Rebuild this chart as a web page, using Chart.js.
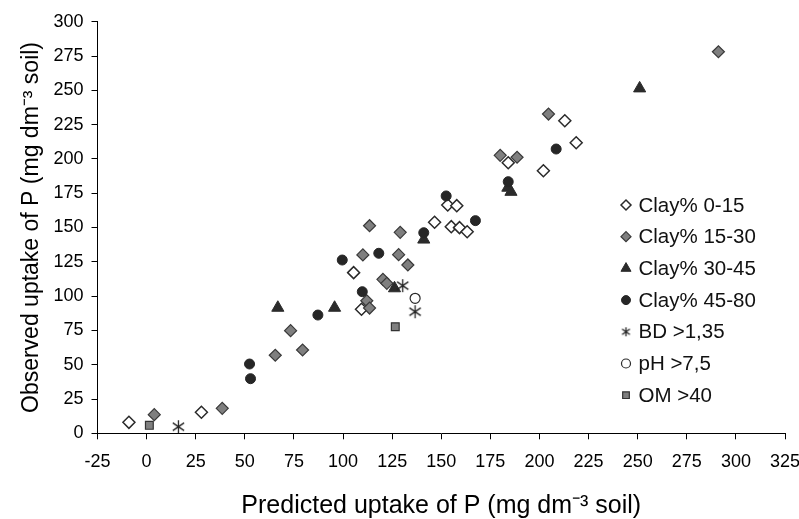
<!DOCTYPE html>
<html>
<head>
<meta charset="utf-8">
<script src="https://cdn.jsdelivr.net/npm/chart.js@4/dist/chart.umd.min.js"></script>
<style>
  html, body { margin:0; padding:0; background:#fff; }
  #box { width:799px; height:519px; position:relative; }
</style>
</head>
<body>
<div id="box"><canvas id="graphe"></canvas></div>
<script>
const clay0_15_x = [-9.0, 27.9, 105.4, 109.4, 146.6, 153.3, 157.9, 155.1, 159.3, 163.2, 184.1, 202.0, 212.9, 218.7]
const clay0_15_y = [8.0, 15.3, 117.1, 90.4, 153.8, 166.4, 165.9, 150.6, 149.9, 146.9, 197.2, 191.4, 227.8, 211.8]

const clay15_30_x = [3.9, 38.5, 65.5, 73.3, 79.4, 110.1, 113.5, 128.3, 129.1, 133.0, 120.3, 122.3, 112.1, 113.5, 180.0, 188.6, 204.6, 291.1]
const clay15_30_y = [13.6, 18.2, 56.9, 74.8, 60.7, 130.0, 151.3, 130.2, 146.5, 122.7, 112.2, 109.3, 96.6, 91.3, 202.6, 201.2, 232.7, 278.1]

const clay30_45_x = [66.8, 95.7, 126.2, 141.1, 183.9, 185.5, 251.0]
const clay30_45_y = [91.5, 91.5, 105.7, 141.2, 179.0, 176.0, 251.4]

const clay45_80_x = [52.4, 52.9, 87.2, 99.6, 109.8, 118.2, 141.1, 152.5, 167.4, 184.1, 208.5]
const clay45_80_y = [50.5, 39.8, 86.2, 126.3, 103.2, 131.2, 146.2, 173.0, 155.0, 183.4, 207.2]

const bd_x = [16.2, 130.4, 136.7]
const bd_y = [4.8, 107.6, 88.6]

const ph_x = [136.7]
const ph_y = [98.4]

const om_x = [1.4, 126.6]
const om_y = [5.8, 77.7]

const seriesLabels = ['Clay% 0-15', 'Clay% 15-30', 'Clay% 30-45', 'Clay% 45-80', 'BD >1,35', 'pH >7,5', 'OM >40']
const xTickValues = [-25, 0, 25, 50, 75, 100, 125, 150, 175, 200, 225, 250, 275, 300, 325]
const yTickValues = [0, 25, 50, 75, 100, 125, 150, 175, 200, 225, 250, 275, 300]

// petite etoile a 6 branches pour BD
function asterisque(taille){
    const c = document.createElement('canvas')
    c.width = taille; c.height = taille
    const ctx = c.getContext('2d')
    const m = taille / 2, r = taille / 2 - 1
    ctx.strokeStyle = '#222'
    ctx.lineWidth = 1.3
    ctx.beginPath()
    ctx.moveTo(m, m - r); ctx.lineTo(m, m + r)
    ctx.moveTo(m - r * 0.87, m - r * 0.6); ctx.lineTo(m + r * 0.87, m + r * 0.6)
    ctx.moveTo(m + r * 0.87, m - r * 0.6); ctx.lineTo(m - r * 0.87, m + r * 0.6)
    ctx.stroke()
    return c
}
const starBig = asterisque(15)
const starSmall = asterisque(11)

function points(xs, ys){
    return xs.map((x, i) => ({x: x, y: ys[i]}))
}

const styles = [
    {pointStyle:'rectRot', radius:6, bg:'#ffffff', border:'#2a2a2a', bw:1.5, lr:5},
    {pointStyle:'rectRot', radius:6, bg:'#7f7f7f', border:'#3a3a3a', bw:1.2, lr:5},
    {pointStyle:'triangle', radius:7, bg:'#2b2b2b', border:'#2b2b2b', bw:1, lr:5.8},
    {pointStyle:'circle', radius:5, bg:'#262626', border:'#262626', bw:1, lr:4.5},
    {pointStyle:starBig, radius:7, bg:'#222', border:'#222', bw:1, lr:5, small:starSmall},
    {pointStyle:'circle', radius:5, bg:'#ffffff', border:'#2a2a2a', bw:1.2, lr:4.5},
    {pointStyle:'rect', radius:5.5, bg:'#7f7f7f', border:'#333', bw:1.2, lr:4.7}
]

const allX = [clay0_15_x, clay15_30_x, clay30_45_x, clay45_80_x, bd_x, ph_x, om_x]
const allY = [clay0_15_y, clay15_30_y, clay30_45_y, clay45_80_y, bd_y, ph_y, om_y]

const datasets = seriesLabels.map((lab, i) => ({
    label: lab,
    data: points(allX[i], allY[i]),
    pointStyle: styles[i].pointStyle,
    pointRadius: styles[i].radius,
    pointHoverRadius: styles[i].radius,
    pointBackgroundColor: styles[i].bg,
    pointBorderColor: styles[i].border,
    pointBorderWidth: styles[i].bw,
    showLine: false,
    order: 10 - i
}))

// legende dessinee a la main, a droite dans le graphe
const legendePlugin = {
    id: 'legendeMain',
    afterDraw(chart){
        const ctx = chart.ctx
        ctx.save()
        seriesLabels.forEach((lab, i) => {
            const y = 205 + i * 31.7
            const st = styles[i]
            const ps = st.small ? st.small : st.pointStyle
            ctx.fillStyle = st.bg
            ctx.strokeStyle = st.border
            ctx.lineWidth = st.bw
            Chart.helpers.drawPoint(ctx, {pointStyle: ps, radius: st.lr, borderWidth: st.bw}, 626, y)
            ctx.fillStyle = '#111'
            ctx.font = '20.5px "Liberation Sans", Arial, sans-serif'
            ctx.textBaseline = 'middle'
            ctx.textAlign = 'left'
            ctx.fillText(lab, 638.5, y + 1)
        })
        ctx.restore()
    }
}

const police = '"Liberation Sans", Arial, sans-serif'

new Chart(document.querySelector('#graphe'), {
    type: 'scatter',
    data: { datasets: datasets },
    plugins: [legendePlugin],
    options: {
        responsive: true,
        maintainAspectRatio: false,
        animation: false,
        layout: { padding: { top: 21.7, right: 14, left: 0, bottom: 0 } },
        plugins: { legend: { display: false }, tooltip: { enabled: false } },
        scales: {
            x: {
                type: 'linear',
                min: -25, max: 325,
                afterBuildTicks: s => { s.ticks = xTickValues.map(v => ({value: v})) },
                afterFit: s => { s.height = 85.7; s.paddingLeft = 0; s.paddingRight = 0 },
                border: { color: '#000', width: 1 },
                grid: { drawOnChartArea: false, tickLength: 6, color: '#000' },
                ticks: { color: '#000', padding: 12, maxRotation: 0, autoSkip: false,
                    font: { family: police, size: 18 } },
                title: { display: true, text: 'Predicted uptake of P (mg dm\u207B\u00B3 soil)', color: '#000',
                    font: { family: police, size: 25, lineHeight: 1 }, padding: { top: 0, bottom: 0 } }
            },
            y: {
                type: 'linear',
                min: 0, max: 300,
                afterBuildTicks: s => { s.ticks = yTickValues.map(v => ({value: v})) },
                afterFit: s => { s.width = 97.5 },
                border: { color: '#000', width: 1 },
                grid: { drawOnChartArea: false, tickLength: 6, color: '#000' },
                ticks: { color: '#000', padding: 8, autoSkip: false,
                    font: { family: police, size: 18 } },
                title: { display: true, text: 'Observed uptake of P (mg dm\u207B\u00B3 soil)', color: '#000',
                    font: { family: police, size: 23, lineHeight: 1 }, padding: { top: 20, bottom: 0 } }
            }
        }
    }
})
</script>
</body>
</html>
